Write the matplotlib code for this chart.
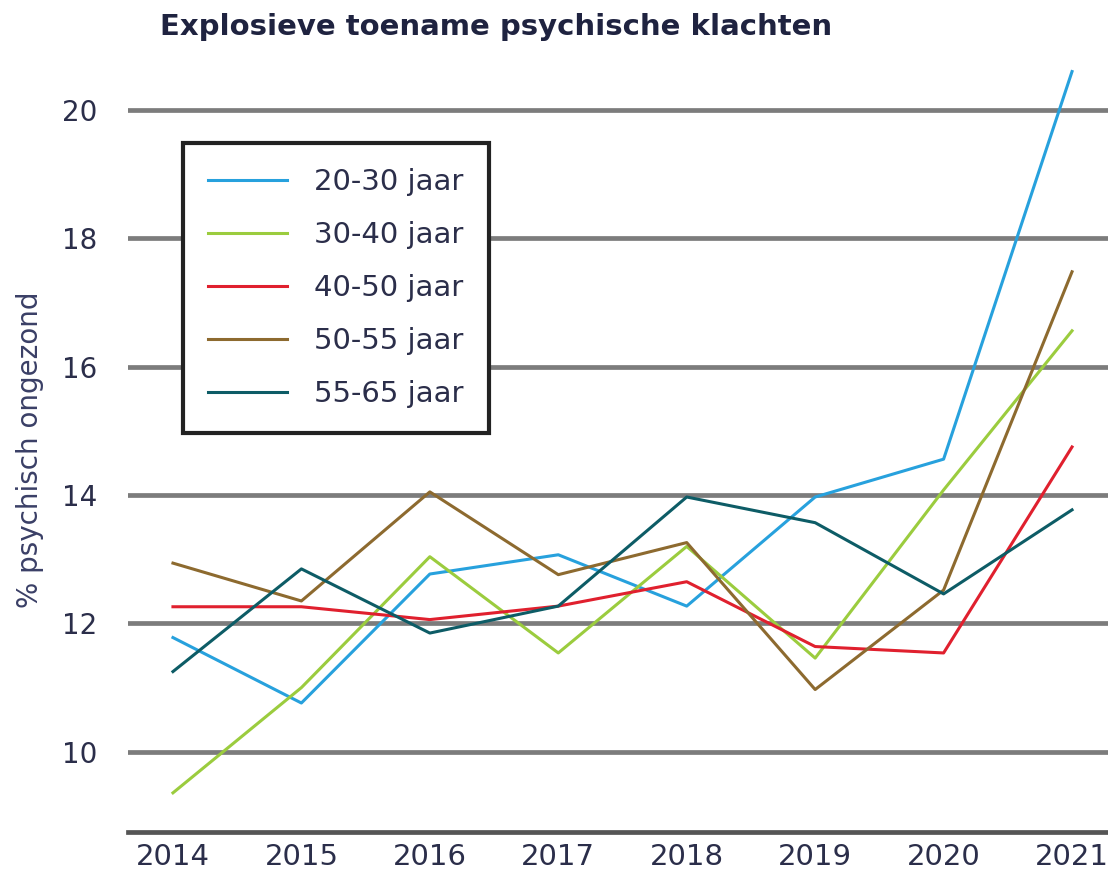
import matplotlib
matplotlib.use("Agg")
import matplotlib.pyplot as plt

years = [2014, 2015, 2016, 2017, 2018, 2019, 2020, 2021]
labels = ["20-30 jaar", "30-40 jaar", "40-50 jaar", "50-55 jaar", "55-65 jaar"]
v_20_30 = [11.78, 10.76, 12.77, 13.07, 12.27, 13.97, 14.56, 20.6]
v_30_40 = [9.36, 11.0, 13.04, 11.54, 13.2, 11.46, 14.08, 16.56]
v_40_50 = [12.26, 12.26, 12.06, 12.27, 12.65, 11.64, 11.54, 14.75]
v_50_55 = [12.94, 12.35, 14.05, 12.76, 13.26, 10.97, 12.52, 17.48]
v_55_65 = [11.25, 12.85, 11.85, 12.27, 13.97, 13.57, 12.46, 13.77]
series = [v_20_30, v_30_40, v_40_50, v_50_55, v_55_65]
colors = ["#27a1dd", "#9bcc3e", "#e0202e", "#8d6a2f", "#0d5c66"]
yticks = [10, 12, 14, 16, 18, 20]

txt = "#2b2e4a"
fam = ["DejaVu Sans"]

fig = plt.figure(figsize=(11.08, 8.75), dpi=100)
ax = fig.add_axes([128/1108, 1-832/875, 1-128/1108, (832-60)/875])

for yv in yticks:
    ax.axhline(yv, color="#7c7c7c", lw=3.4, zorder=1)

for vals, c, lab in zip(series, colors, labels):
    ax.plot(years, vals, color=c, lw=2.2, label=lab, zorder=3)

ax.set_xlim(2013.65, 2021.28)
ax.set_ylim(8.75, 20.78)
ax.set_yticks(yticks)
ax.set_xticks(years)
ax.set_yticklabels([str(t) for t in yticks], family=fam, fontsize=20, color=txt)
ax.set_xticklabels([str(y) for y in years], family=fam, fontsize=21, color=txt)
ax.tick_params(axis="both", length=0)
ax.tick_params(axis="y", pad=22)
ax.tick_params(axis="x", pad=8)
for s in ["top", "right", "left"]:
    ax.spines[s].set_visible(False)
ax.spines["bottom"].set_color("#555555")
ax.spines["bottom"].set_linewidth(3.4)

fig.text(30/1108, 1-450/875, "% psychisch ongezond", rotation=90, ha="center",
         va="center", fontsize=20, color="#3a3f66", family=fam)
fig.text(160/1108, 1-27/875, "Explosieve toename psychische klachten",
         ha="left", va="center", fontsize=21, fontweight="bold", color="#1f2340",
         family=fam)

leg = ax.legend(loc="upper left", bbox_to_anchor=(183/1108, 1-143/875),
                bbox_transform=fig.transFigure, fontsize=21, handlelength=2.7,
                handletextpad=0.95, labelspacing=0.86, borderpad=0.85,
                borderaxespad=0, fancybox=False, framealpha=1,
                edgecolor="#222222")
leg.get_frame().set_linewidth(3)
for t in leg.get_texts():
    t.set_color(txt)

fig.savefig("out.png", dpi=100, facecolor="white")
